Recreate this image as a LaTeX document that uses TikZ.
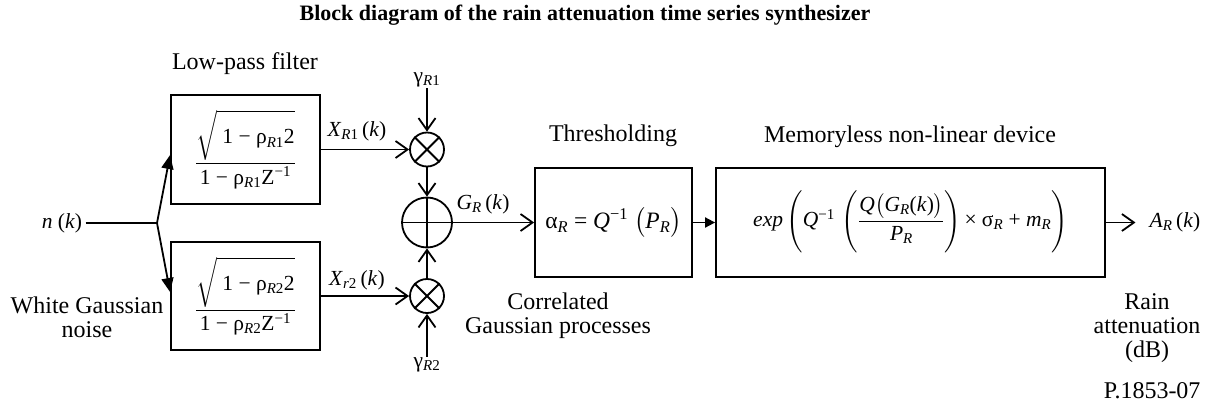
\documentclass[tikz,border=0pt]{standalone}
\usepackage{exscale}
\usepackage{fontspec}
\setmainfont{Liberation Serif}
\usetikzlibrary{arrows.meta}
\newcommand{\Rsub}[1]{\textsubscript{\textit{R}#1}}
\begin{document}
\begin{tikzpicture}[x=1pt,y=-1pt,
  lbl/.style={font=\fontsize{24}{24}\selectfont, align=center},
  mth/.style={font=\fontsize{21.5}{23}\selectfont, align=center},
  blk/.style={draw, line width=1.8pt, inner sep=0pt, font=\fontsize{21.5}{23}\selectfont},
  con/.style={line width=1.8pt},
  chev/.style={con, -{Straight Barb[length=12pt,width=17pt]}},
  fillarrow/.style={con, -{Triangle[length=14pt,width=12pt]}},
  smallarrow/.style={con, -{Triangle[length=10pt,width=10pt]}},
  circ/.style={draw, circle, line width=1.8pt, inner sep=0pt},
]
\useasboundingbox (0,0) rectangle (1208,405);
\node[font=\bfseries\fontsize{22}{24}\selectfont] (title) at (585,15) {Block diagram of the rain attenuation time series synthesizer};

% blocks
\node[blk, minimum width=149pt, minimum height=109pt] (b1) at (245.5,149.5)
  {$\displaystyle\frac{\sqrt{\rule[-11pt]{0pt}{36pt}\mbox{\ 1 − ρ\Rsub{1}2}}}{\mbox{1 − ρ\Rsub{1}Z\textsuperscript{−1}}}$};
\node[blk, minimum width=149pt, minimum height=108pt] (b2) at (245.5,296)
  {$\displaystyle\frac{\sqrt{\rule[-11pt]{0pt}{36pt}\mbox{\ 1 − ρ\Rsub{2}2}}}{\mbox{1 − ρ\Rsub{2}Z\textsuperscript{−1}}}$};
\node[blk, minimum width=157pt, minimum height=109pt, font=\fontsize{23.5}{25}\selectfont] (th) at (613.5,222.5)
  {$\mbox{α\Rsub{} = \textit{Q}\textsuperscript{−1}\ }\bigl(\mbox{\textit{P}\Rsub{}}\bigr)$};
\node[blk, minimum width=389pt, minimum height=109pt] (nl) at (910.5,222.5)
  {$\displaystyle\mbox{\textit{exp}}\left(\rule[-28pt]{0pt}{62pt}\mbox{\textit{Q}\textsuperscript{−1}}\,\left(\rule[-28pt]{0pt}{62pt}\frac{\mbox{\textit{Q}}\bigl(\mbox{\textit{G}\Rsub{}(\textit{k})}\bigr)}{\mbox{\textit{P}\Rsub{}}}\right)\mbox{× σ\Rsub{} + \textit{m}\Rsub{}}\right)$};

% circles
\node[circ, minimum size=34pt] (m1) at (427,149.5) {};
\node[circ, minimum size=50pt] (s) at (427,222.5) {};
\node[circ, minimum size=34pt] (m2) at (427,296) {};
\draw[con] (m1.north west) -- (m1.south east) (m1.north east) -- (m1.south west);
\draw[con] (m2.north west) -- (m2.south east) (m2.north east) -- (m2.south west);
\draw[con] (s.north) -- (s.south) (s.west) -- (s.east);

% labels
\node[lbl] (lpf) at (245,64) {Low-pass filter};
\node[lbl] (wgn) at (87,317.5) {White Gaussian\\noise};
\node[lbl] (thl) at (613,136) {Thresholding};
\node[lbl] (cg) at (558,316) {Correlated\\Gaussian processes};
\node[lbl] (nll) at (910,137) {Memoryless non-linear device};
\node[lbl] (rain) at (1147,328) {Rain\\attenuation\\(dB)};
\node[lbl, anchor=east] (pn) at (1204,391) {P.1853-07};

\node[mth] (n) at (62,223) {\textit{n} (\textit{k})};
\node[mth] (x1) at (357,131) {\textit{X}\Rsub{1}\,(\textit{k})};
\node[mth] (x2) at (357,280) {\textit{X}\textsubscript{\textit{r}2}\,(\textit{k})};
\node[mth, inner sep=1pt] (g1) at (427,80) {γ\Rsub{1}};
\node[mth, inner sep=1pt] (g2) at (427,365) {γ\Rsub{2}};
\node[mth] (gr) at (483,204) {\textit{G}\Rsub{}\,(\textit{k})};
\node[mth, inner xsep=14pt] (ar) at (1175,222.5) {\textit{A}\Rsub{}\,(\textit{k})};

% connectors
\coordinate (sp) at (157,223);
\draw[con] (n.east) -- (sp);
\draw[fillarrow] (sp) -- ([yshift=-5.5pt]b1.west);
\draw[fillarrow] (sp) -- ([yshift=4pt]b2.west);
\draw[chev] (b1.east) -- (m1.west);
\draw[chev] (b2.east) -- (m2.west);
\draw[chev] (g1.south) -- (m1.north);
\draw[chev] (g2.north) -- (m2.south);
\draw[chev] (m1.south) -- (s.north);
\draw[chev] (m2.north) -- (s.south);
\draw[chev] (s.east) -- (th.west);
\draw[smallarrow] (th.east) -- (nl.west);
\draw[chev] (nl.east) -- (ar.west);
\end{tikzpicture}
\end{document}
